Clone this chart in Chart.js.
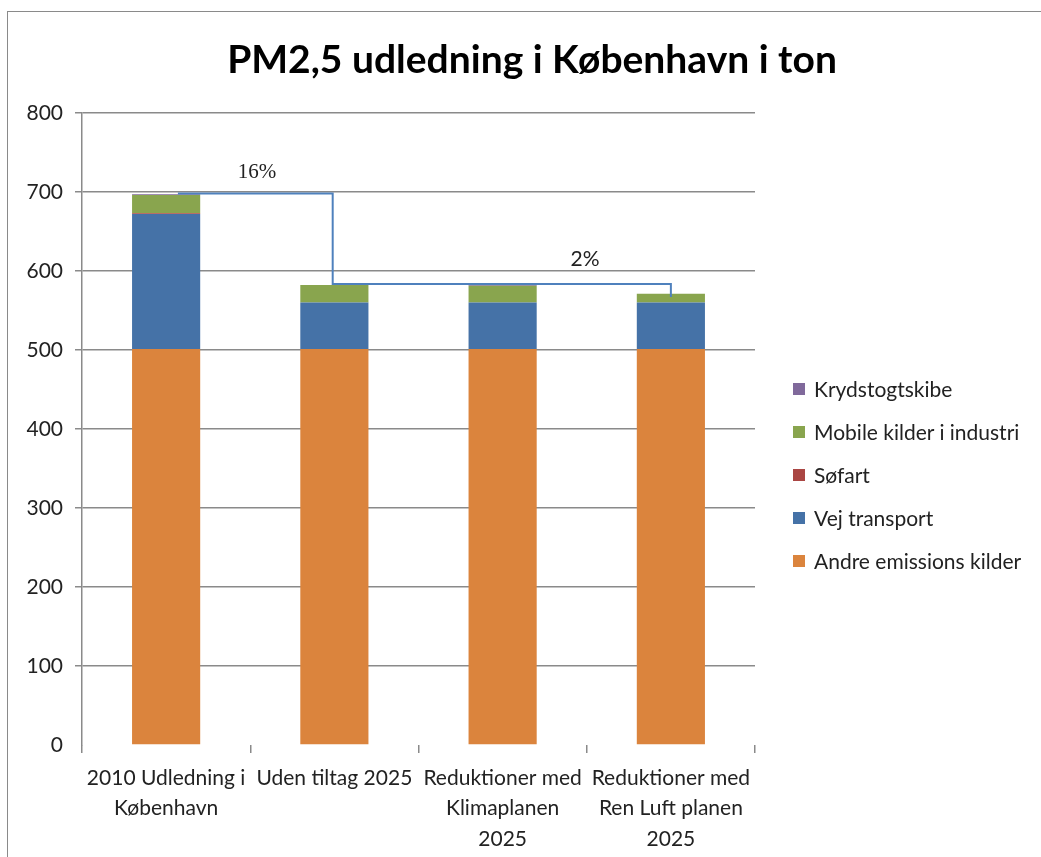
<!DOCTYPE html>
<html>
<head>
<meta charset="utf-8">
<script src="https://cdn.jsdelivr.net/npm/chart.js@4.4.1/dist/chart.umd.min.js"></script>
<style>
  html, body { margin: 0; padding: 0; background: #fff; overflow: hidden; width: 1041px; height: 857px; }
  #frame { position: absolute; left: 7px; top: 11px; width: 1100px; height: 900px;
           border-left: 1.5px solid #8a8a8a; border-top: 1.5px solid #8a8a8a; }
  #chart { position: absolute; left: 8px; top: 12px; }
  #legend { position: absolute; left: 793px; top: 367px; font: 21px Lato, sans-serif; color: #222; }
  #legend div { height: 43px; display: flex; align-items: center; white-space: nowrap; }
  #legend span.box { display: inline-block; width: 12px; height: 12px; margin-right: 9px; }
</style>
</head>
<body>
<div id="frame"></div>
<canvas id="chart" width="1048" height="845"></canvas>
<div id="legend"></div>
<script>
// categories and stacked series (ton)
const categories = [
  ['2010 Udledning i', 'København'],
  ['Uden tiltag 2025'],
  ['Reduktioner med', 'Klimaplanen', '2025'],
  ['Reduktioner med', 'Ren Luft planen', '2025']
];
const andre = [501, 501, 501, 501];
const vej = [171, 59, 59, 59];
const sofart = [1, 0, 0, 0];
const mobile = [23, 22, 21, 11];
const kryds = [1, 0, 2, 0];

// step line between the bars (x in category units)
const stepX = [0.07, 0.99, 0.99, 3.0, 3.0];
const stepY = [698, 698, 583.5, 583.5, 567];

// percentage notes
const pctText = ['16%', '2%'];
const pctX = [0.54, 2.49];
const pctY = [724, 615];
const pctFont = ['21px "Liberation Serif", serif', '21px Lato, sans-serif'];

const tickFont = { family: 'Lato, sans-serif', size: 21 };

const pctPlugin = {
  id: 'pct',
  afterDatasetsDraw(chart) {
    const ctx = chart.ctx, sx = chart.scales.x2, sy = chart.scales.y;
    ctx.save();
    ctx.fillStyle = '#222';
    ctx.textAlign = 'center';
    ctx.textBaseline = 'middle';
    pctText.forEach((t, i) => {
      ctx.font = pctFont[i];
      ctx.fillText(t, sx.getPixelForValue(pctX[i]), sy.getPixelForValue(pctY[i]));
    });
    ctx.restore();
  }
};

const barSet = (label, data, color) => ({
  label, data, backgroundColor: color, grouped: false,
  categoryPercentage: 1, barPercentage: 0.405
});

const chart = new Chart(document.getElementById('chart'), {
  type: 'bar',
  data: {
    labels: categories,
    datasets: [
      barSet('Andre emissions kilder', andre, '#DB843D'),
      barSet('Vej transport', vej, '#4572A7'),
      barSet('Søfart', sofart, '#AA4643'),
      barSet('Mobile kilder i industri', mobile, '#89A54E'),
      barSet('Krydstogtskibe', kryds, '#80699B'),
      {
        type: 'line', label: 'step', order: -1,
        xAxisID: 'x2',
        data: stepX.map((x, i) => ({ x, y: stepY[i] })),
        borderColor: '#4F81BD', borderWidth: 2, pointRadius: 0, fill: false, tension: 0
      }
    ]
  },
  options: {
    responsive: false,
    animation: false,
    devicePixelRatio: 1,
    layout: { padding: 0 },
    plugins: {
      legend: { display: false },
      tooltip: { enabled: false },
      title: {
        display: true,
        text: 'PM2,5 udledning i København i ton',
        color: '#000',
        font: { family: 'Lato, sans-serif', size: 39, weight: 'bold', lineHeight: 1.2 },
        padding: { top: 25, bottom: 29 }
      }
    },
    scales: {
      x: {
        stacked: true,
        border: { display: false },
        grid: { display: true, drawOnChartArea: false, drawTicks: true, tickLength: 8, offset: true, color: '#8a8a8a', lineWidth: 1.5 },
        ticks: { color: '#222', font: { ...tickFont, lineHeight: 1.45 }, padding: 10, maxRotation: 0, autoSkip: false },
        afterFit(scale) { scale.height = 112; }
      },
      x2: {
        type: 'linear', display: false, offset: false, min: -0.5, max: 3.5
      },
      y: {
        stacked: true,
        min: 0, max: 800,
        border: { display: true, color: '#8a8a8a', width: 1.5 },
        grid: { color: (c) => c.tick.value === 0 ? 'rgba(0,0,0,0)' : '#8a8a8a', lineWidth: 1.5, tickLength: 7 },
        ticks: { stepSize: 100, color: '#222', font: tickFont, padding: 12 },
        afterFit(scale) { scale.width = 74; }
      },
      // empty strip that leaves room for the legend on the right
      side: {
        type: 'linear', position: 'right', display: true,
        border: { display: false }, grid: { display: false }, ticks: { display: false },
        afterFit(scale) { scale.width = 301; }
      }
    }
  },
  plugins: [pctPlugin]
});

// legend, top entry = top of the stack
const legendEl = document.getElementById('legend');
chart.data.datasets.filter(d => d.type !== 'line').slice().reverse().forEach(d => {
  const row = document.createElement('div');
  const box = document.createElement('span');
  box.className = 'box';
  box.style.background = d.backgroundColor;
  row.appendChild(box);
  row.appendChild(document.createTextNode(d.label));
  legendEl.appendChild(row);
});
</script>
</body>
</html>
